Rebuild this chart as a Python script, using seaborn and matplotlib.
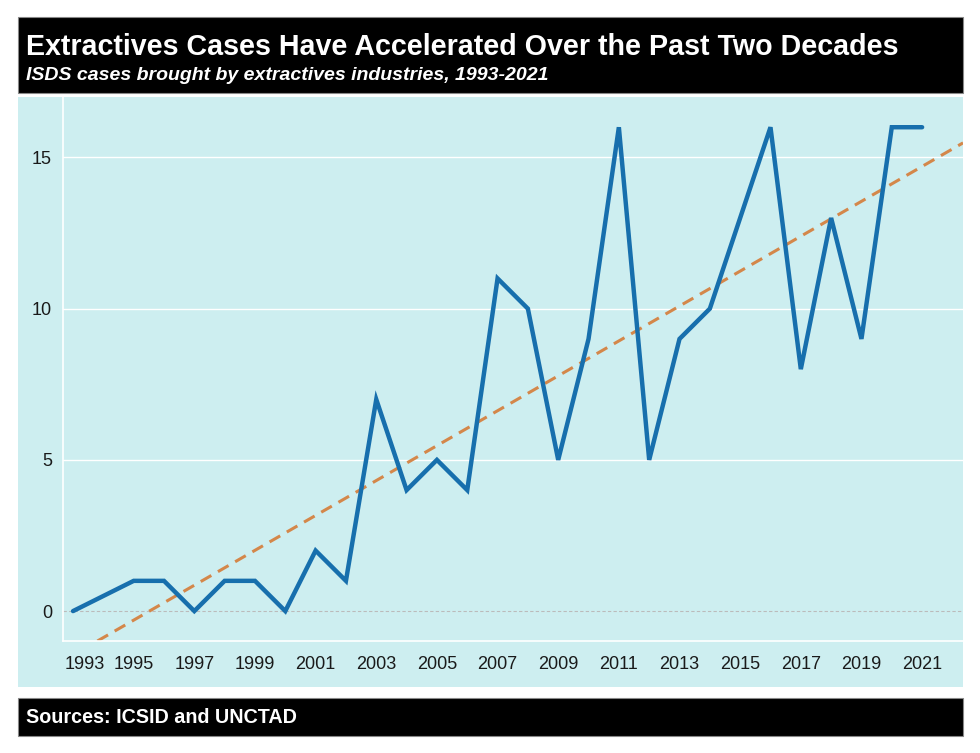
import numpy as np
import pandas as pd
import matplotlib
matplotlib.use("Agg")
import matplotlib.pyplot as plt
import matplotlib.transforms as mtransforms
import seaborn as sns
from matplotlib.patches import Rectangle

# ISDS cases brought by extractives industries (1994 has no point in the source)
years = [1993, 1995, 1996, 1997, 1998, 1999, 2000, 2001, 2002, 2003, 2004, 2005,
         2006, 2007, 2008, 2009, 2010, 2011, 2012, 2013, 2014, 2015, 2016, 2017,
         2018, 2019, 2020, 2021]
cases = [0, 1, 1, 0, 1, 1, 0, 2, 1, 7, 4, 5,
         4, 11, 10, 5, 9, 16, 5, 9, 10, 13, 16, 8,
         13, 9, 16, 16]
label_years = list(range(1993, 2022, 2))
y_ticks = [0, 5, 10, 15]

title = "Extractives Cases Have Accelerated Over the Past Two Decades"
subtitle = "ISDS cases brought by extractives industries, 1993-2021"
source = "Sources: ICSID and UNCTAD"

df = pd.DataFrame({"year": years, "cases": cases})

bg = "#cdeef0"
line_c = "#176fad"
trend_c = "#d4874a"

sns.set_theme(style="white")
plt.rcParams["font.family"] = ["Liberation Sans", "DejaVu Sans"]

fig = plt.figure(figsize=(9.8, 7.53), dpi=100)
fig.patch.set_facecolor("white")

# panel background and header/footer boxes
fig.patches.append(Rectangle((0.0184, 0.0876), 0.9643, 0.7835, transform=fig.transFigure,
                             facecolor=bg, edgecolor="none", zorder=-1))
fig.patches.append(Rectangle((0.0184, 0.8765), 0.9643, 0.101, transform=fig.transFigure,
                             facecolor="black", edgecolor="#888888", lw=0.8, zorder=-1))
fig.patches.append(Rectangle((0.0184, 0.0226), 0.9643, 0.0505, transform=fig.transFigure,
                             facecolor="black", edgecolor="#888888", lw=0.8, zorder=-1))

ax = fig.add_axes([0.0643, 0.1487, 0.9184, 0.7225])
ax.set_zorder(2)
ax.set_facecolor(bg)
ax.set_xlim(1992.67, 2022.35)
ax.set_ylim(-0.99, 17.0)

for v in [5, 10, 15]:
    ax.axhline(v, color="white", lw=1.0, zorder=1)
ax.axhline(0, color="#bbbbbb", lw=0.8, ls=(0, (3, 2)), zorder=1)

sns.regplot(data=df, x="year", y="cases", ax=ax, scatter=False, ci=None, truncate=False,
            line_kws={"color": trend_c, "lw": 2.2, "ls": (0, (4, 2.5)), "zorder": 2})
sns.lineplot(data=df, x="year", y="cases", ax=ax, color=line_c, lw=3.2, zorder=3,
             solid_capstyle="round", solid_joinstyle="miter")

ax.set_xticks(label_years)
ax.set_xticks(range(1993, 2023), minor=True)
ax.set_yticks(y_ticks)
ax.set_xlabel("")
ax.set_ylabel("")
ax.tick_params(axis="x", which="both", length=5, color="white", width=1.2,
               labelsize=13, labelcolor="#1a1a1a", pad=6)
ax.tick_params(axis="y", length=5, color="white", width=1.2,
               labelsize=13, labelcolor="#1a1a1a", pad=3)
for s in ["top", "right"]:
    ax.spines[s].set_visible(False)
for s in ["left", "bottom"]:
    ax.spines[s].set_color("white")
    ax.spines[s].set_linewidth(1.2)

# first year label sits a little right of its tick, as in the original
first = ax.get_xticklabels()[0]
first.set_transform(first.get_transform() +
                    mtransforms.ScaledTranslation(0.12, 0, fig.dpi_scale_trans))

fig.text(0.0265, 0.938, title, color="white", fontsize=20.6, fontweight="bold",
         va="center", ha="left")
fig.text(0.0265, 0.900, subtitle, color="white", fontsize=14, fontweight="bold",
         style="italic", va="center", ha="left")
fig.text(0.0265, 0.0478, source, color="white", fontsize=14.2, fontweight="bold",
         va="center", ha="left")

fig.savefig("out.png", dpi=100)
